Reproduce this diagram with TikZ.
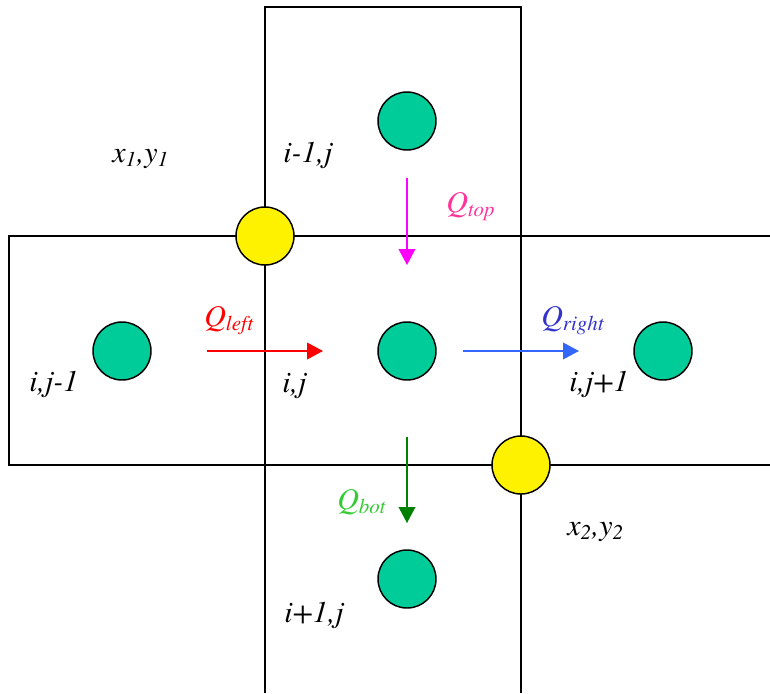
\documentclass[tikz,border=0pt]{standalone}
\usepackage{fontspec}
\setmainfont{texgyretermes}[Extension=.otf, UprightFont=*-regular, ItalicFont=*-italic, BoldFont=*-bold, BoldItalicFont=*-bolditalic]
\usetikzlibrary{arrows.meta}
\definecolor{cellgreen}{RGB}{0,204,153}
\definecolor{topmagenta}{RGB}{255,0,255}
\definecolor{toppink}{RGB}{255,51,153}
\definecolor{rightblue}{RGB}{51,102,255}
\definecolor{rightlabel}{RGB}{51,51,204}
\definecolor{botgreen}{RGB}{0,128,0}
\definecolor{botlabel}{RGB}{51,204,51}
\newcommand{\flux}[1]{Q\textsubscript{#1}}
\tikzset{
  cell/.style={circle, draw, line width=1.1pt, fill=cellgreen, minimum size=43.5pt, inner sep=0pt},
  corner/.style={circle, draw, line width=1.1pt, fill=yellow, minimum size=43.5pt, inner sep=0pt},
  lbl/.style={anchor=base west, inner sep=0pt},
  flow/.style={line width=1.1pt, -{Triangle[length=12pt,width=12.5pt]}}
}
\begin{document}
\begin{tikzpicture}[x=0.75pt, y=-0.75pt, every node/.style={font=\itshape\fontsize{22.5}{27}\selectfont}]
  \useasboundingbox (0,0) rectangle (770,693);
  % grid strips
  \draw[line width=1.2pt] (265,693) -- (265,7) -- (521,7) -- (521,693);
  \draw[line width=1.2pt] (770,236) -- (9,236) -- (9,465) -- (770,465);
  % cell centres
  \node[cell] (im1j) at (407,121) {};
  \node[cell] (ijm1) at (122,351) {};
  \node[cell] (ij)   at (407,351) {};
  \node[cell] (ijp1) at (663,351) {};
  \node[cell] (ip1j) at (407,579) {};
  % corners
  \node[corner] (xy1) at (265,236) {};
  \node[corner] (xy2) at (521,465) {};
  % flux arrows
  \coordinate (topA) at (407,178); \coordinate (topB) at (407,265);
  \coordinate (leftA) at (207,351); \coordinate (leftB) at (323,351);
  \coordinate (rightA) at (463,351); \coordinate (rightB) at (579,351);
  \coordinate (botA) at (407,437); \coordinate (botB) at (407,523);
  \draw[flow, topmagenta] (topA) -- (topB);
  \draw[flow, red] (leftA) -- (leftB);
  \draw[flow, rightblue] (rightA) -- (rightB);
  \draw[flow, botgreen] (botA) -- (botB);
  % labels
  \node[lbl] (lxy1) at (112,162) {x\textsubscript{1},y\textsubscript{1}};
  \node[lbl] (lim1j) at (283,162) {i-1,j};
  \node[lbl, toppink] (qtop) at (446,212) {\flux{top}};
  \node[lbl, red] (qleft) at (204,326) {\flux{left}};
  \node[lbl, rightlabel] (qright) at (541,326) {\flux{right}};
  \node[lbl] (lijm1) at (29,391) {i,j-1};
  \node[lbl] (lij) at (282,392) {i,j};
  \node[lbl] (lijp1) at (569,391) {i,j+1};
  \node[lbl, botlabel] (qbot) at (337,509) {\flux{bot}};
  \node[lbl] (lxy2) at (567,535) {x\textsubscript{2},y\textsubscript{2}};
  \node[lbl] (lip1j) at (284,622) {i+1,j};
\end{tikzpicture}
\end{document}
